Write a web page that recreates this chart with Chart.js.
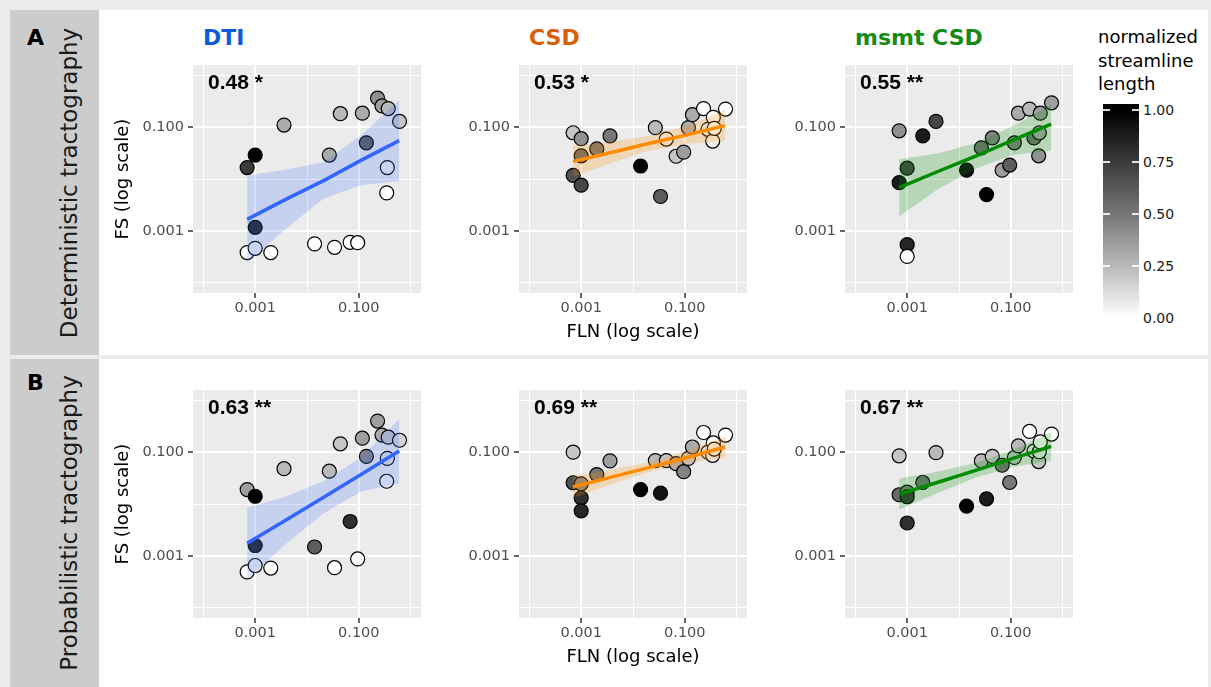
<!DOCTYPE html>
<html lang="en">
<head>
<meta charset="UTF-8" />
<title>FLN vs FS by tractography</title>
<script src="https://cdn.jsdelivr.net/npm/chart.js@4.4.1/dist/chart.umd.min.js"></script>
<style>
  html, body { margin: 0; padding: 0; }
  body {
    width: 1211px; height: 687px; position: relative; overflow: hidden;
    background: #ebebeb; font-family: 'DejaVu Sans', sans-serif;
  }
  .row { position: absolute; left: 10px; width: 1198px; background: #ffffff; }
  .strip { position: absolute; left: 10px; width: 89px; background: #cccccc; }
  .tag { position: absolute; left: 27px; font-weight: bold; font-size: 22px; line-height: 22px; color: #000; }
  .rowlab {
    position: absolute; left: 69px; font-size: 23px; line-height: 23px; color: #1a1a1a;
    white-space: nowrap; transform: translate(-50%, -50%) rotate(-90deg);
  }
  .method { position: absolute; top: 27px; font-weight: bold; font-size: 22px; line-height: 22px; white-space: nowrap; }
  .legtitle { position: absolute; left: 1098px; top: 25px; font-size: 18px; line-height: 23.5px; color: #000; }
  .legbar { position: absolute; left: 1103px; top: 104px; width: 36px; height: 218px; }
  .legtick { position: absolute; height: 1.2px; width: 7px; background: rgba(255,255,255,0.85); }
  .leglab { position: absolute; left: 1143px; font-size: 14px; line-height: 14px; color: #1a1a1a; }
  canvas { position: absolute; }
</style>
</head>
<body>
<script>
  // ---- data ----
  const methods = ["DTI", "CSD", "msmt CSD"];
  const rowNames = ["Deterministic tractography", "Probabilistic tractography"];
  const rowTags = ["A", "B"];
  const stats = ["0.48 *", "0.53 *", "0.55 **", "0.63 **", "0.69 **", "0.67 **"];

  // FLN is shared by every panel
  const fln = [0.0007, 0.0007, 0.001, 0.001, 0.001, 0.002, 0.0036, 0.014, 0.027, 0.034, 0.044,
               0.068, 0.095, 0.117, 0.14, 0.23, 0.28, 0.345, 0.355, 0.37, 0.61];

  // deterministic
  const fsDetDti  = [0.0166, 0.00038, 0.029, 0.00117, 0.00046, 0.00038, 0.110, 0.00056, 0.029, 0.00048, 0.182,
                     0.0006, 0.00059, 0.186, 0.050, 0.363, 0.257, 0.0054, 0.0166, 0.229, 0.129];
  const lenDetDti = [0.75, 0, 1, 0.85, 0.05, 0, 0.3, 0, 0.3, 0, 0.25, 0, 0, 0.3, 0.6, 0.4, 0.35, 0, 0.05, 0.25, 0.2];
  const fsDetCsd  = [0.078, 0.0117, 0.060, 0.028, 0.0076, 0.038, 0.068, 0.0178, 0.098, 0.0046, 0.059,
                     0.0275, 0.033, 0.098, 0.174, 0.229, 0.091, 0.054, 0.155, 0.095, 0.224];
  const lenDetCsd = [0.2, 0.65, 0.4, 0.55, 0.7, 0.5, 0.5, 1, 0.25, 0.6, 0.05, 0.2, 0.35, 0.3, 0.3, 0, 0.05, 0.05, 0, 0, 0];
  const fsDetMsmt  = [0.085, 0.0085, 0.0162, 0.00054, 0.00032, 0.068, 0.129, 0.0148, 0.040, 0.0050, 0.062,
                      0.0148, 0.0186, 0.050, 0.186, 0.224, 0.062, 0.028, 0.078, 0.186, 0.295];
  const lenDetMsmt = [0.4, 0.9, 0.7, 0.85, 0, 0.9, 0.7, 0.95, 0.5, 1, 0.45, 0.35, 0.6, 0.45, 0.3, 0.25, 0.5, 0.4, 0.3, 0.35, 0.35];

  // probabilistic
  const fsProbDti  = [0.019, 0.00049, 0.0141, 0.00158, 0.00065, 0.00058, 0.048, 0.00148, 0.043, 0.00059, 0.145,
                      0.0046, 0.00087, 0.186, 0.083, 0.398, 0.214, 0.0275, 0.076, 0.195, 0.170];
  const lenProbDti = [0.35, 0, 1, 0.85, 0.05, 0, 0.25, 0.6, 0.25, 0, 0.2, 0.8, 0, 0.35, 0.45, 0.35, 0.3, 0.05, 0.1, 0.2, 0.15];
  const fsProbCsd  = [0.100, 0.0257, 0.0245, 0.0132, 0.0074, 0.037, 0.068, 0.019, 0.069, 0.0162, 0.069,
                      0.060, 0.042, 0.076, 0.126, 0.240, 0.100, 0.087, 0.151, 0.115, 0.214];
  const lenProbCsd = [0.2, 0.65, 0.45, 0.8, 0.85, 0.5, 0.35, 1, 0.25, 0.95, 0.2, 0.3, 0.45, 0.2, 0.3, 0, 0.05, 0.05, 0, 0.05, 0];
  const fsProbMsmt  = [0.085, 0.0151, 0.017, 0.0138, 0.0043, 0.026, 0.098, 0.0091, 0.068, 0.0126, 0.083,
                       0.056, 0.026, 0.079, 0.132, 0.251, 0.105, 0.066, 0.102, 0.158, 0.224];
  const lenProbMsmt = [0.2, 0.55, 0.45, 0.75, 0.8, 0.5, 0.25, 1, 0.25, 0.9, 0.2, 0.5, 0.5, 0.2, 0.25, 0, 0.05, 0.2, 0.05, 0, 0];

  // smooth line + confidence band, read at these FLN values
  const smoothFln = [0.0007, 0.0038, 0.021, 0.11, 0.6];
  const fitDetDti  = [0.00166, 0.0040, 0.0093, 0.0229, 0.055];
  const hiDetDti   = [0.0117, 0.0151, 0.021, 0.069, 0.331];
  const loDetDti   = [0.00024, 0.00107, 0.0042, 0.0076, 0.0091];
  const fitDetCsd  = [0.0219, 0.0324, 0.049, 0.071, 0.107];
  const hiDetCsd   = [0.0437, 0.0525, 0.068, 0.107, 0.214];
  const loDetCsd   = [0.011, 0.0204, 0.0355, 0.048, 0.054];
  const fitDetMsmt = [0.0068, 0.0138, 0.0275, 0.056, 0.115];
  const hiDetMsmt  = [0.024, 0.031, 0.049, 0.105, 0.269];
  const loDetMsmt  = [0.0019, 0.0062, 0.0158, 0.029, 0.0355];
  const fitProbDti  = [0.00174, 0.0048, 0.0135, 0.037, 0.105];
  const hiProbDti   = [0.0085, 0.0138, 0.0275, 0.079, 0.437];
  const loProbDti   = [0.00035, 0.00166, 0.0066, 0.0174, 0.025];
  const fitProbCsd  = [0.0214, 0.033, 0.051, 0.079, 0.126];
  const hiProbCsd   = [0.0347, 0.0457, 0.065, 0.105, 0.20];
  const loProbCsd   = [0.0132, 0.024, 0.042, 0.062, 0.078];
  const fitProbMsmt = [0.0155, 0.026, 0.0447, 0.076, 0.129];
  const hiProbMsmt  = [0.031, 0.042, 0.062, 0.110, 0.245];
  const loProbMsmt  = [0.0078, 0.0162, 0.0324, 0.052, 0.068];

  // axes and legend
  const axisTicks = [0.0001, 0.001, 0.01, 0.1, 1];
  const labeledTicks = [0.001, 0.1];
  const tickLabels = ["0.001", "0.100"];
  const legendBreaks = [1, 0.75, 0.5, 0.25, 0];
  const legendLabels = ["1.00", "0.75", "0.50", "0.25", "0.00"];

  // ---- styling ----
  const headColors = ["#0d5bd8", "#d9600a", "#158a15"];
  const lineColors = ["#3366ff", "#ff8c00", "#008b00"];
  const bandColors = ["rgba(51,102,255,0.2)", "rgba(255,140,0,0.22)", "rgba(0,139,0,0.22)"];

  const colLeft = [193, 519, 845];
  const rowTop = [65, 390];
  const plotSize = 228;
  const yAxisW = 80, xAxisH = 50;

  const panels = [
    { fs: fsDetDti,  len: lenDetDti,  fit: fitDetDti,  hi: hiDetDti,  lo: loDetDti },
    { fs: fsDetCsd,  len: lenDetCsd,  fit: fitDetCsd,  hi: hiDetCsd,  lo: loDetCsd },
    { fs: fsDetMsmt, len: lenDetMsmt, fit: fitDetMsmt, hi: hiDetMsmt, lo: loDetMsmt },
    { fs: fsProbDti,  len: lenProbDti,  fit: fitProbDti,  hi: hiProbDti,  lo: loProbDti },
    { fs: fsProbCsd,  len: lenProbCsd,  fit: fitProbCsd,  hi: hiProbCsd,  lo: loProbCsd },
    { fs: fsProbMsmt, len: lenProbMsmt, fit: fitProbMsmt, hi: hiProbMsmt, lo: loProbMsmt }
  ];

  // white -> black through Lab lightness, like scale_fill_gradient
  function shade(v) {
    const L = 100 * (1 - v);
    const Y = L > 8 ? Math.pow((L + 16) / 116, 3) : L / 903.3;
    const c = Y <= 0.0031308 ? 12.92 * Y : 1.055 * Math.pow(Y, 1 / 2.4) - 0.055;
    const g = Math.round(255 * Math.min(1, Math.max(0, c)));
    return `rgb(${g},${g},${g})`;
  }

  function el(cls, style, text) {
    const d = document.createElement("div");
    d.className = cls;
    Object.assign(d.style, style);
    if (text) d.textContent = text;
    document.body.appendChild(d);
    return d;
  }

  // frame, strips, labels
  el("row", { top: "10px", height: "345px" });
  el("row", { top: "359px", height: "328px" });
  el("strip", { top: "10px", height: "345px" });
  el("strip", { top: "359px", height: "328px" });
  el("tag", { top: "27px" }, rowTags[0]);
  el("tag", { top: "372px" }, rowTags[1]);
  el("rowlab", { top: "183px" }, rowNames[0]);
  el("rowlab", { top: "523px" }, rowNames[1]);
  methods.forEach((m, i) => el("method", { left: (colLeft[i] + 10) + "px", color: headColors[i] }, m));

  // colour bar legend
  const legTitle = el("legtitle", {});
  legTitle.innerHTML = "normalized<br>streamline<br>length";
  const barTop = 104, barH = 218, yOne = 110, yZero = 318;
  const stops = [1, 0.75, 0.5, 0.25, 0].map(v => {
    const pct = ((yZero - v * (yZero - yOne)) - barTop) / barH * 100;
    return `${shade(v)} ${pct.toFixed(1)}%`;
  });
  el("legbar", { background: `linear-gradient(to bottom, ${stops.join(", ")})` });
  legendBreaks.forEach((v, i) => {
    const y = yZero - v * (yZero - yOne);
    el("legtick", { left: "1103px", top: (y - 0.6) + "px" });
    el("legtick", { left: "1132px", top: (y - 0.6) + "px" });
    el("leglab", { top: (y - 6.8) + "px" }, legendLabels[i]);
  });

  // ---- charts ----
  const isMajor = t => t && labeledTicks.includes(t.value);

  function logAxis(position, titleText, showTitle) {
    const vertical = position === "left";
    return {
      type: "logarithmic",
      position,
      min: Math.pow(10, -4.2),
      max: Math.pow(10, 0.2),
      afterBuildTicks: s => { s.ticks = axisTicks.map(v => ({ value: v })); },
      afterFit: s => {
        if (vertical) s.width = yAxisW; else s.height = xAxisH;
        s.paddingTop = 0; s.paddingBottom = 0; s.paddingLeft = 0; s.paddingRight = 0;
      },
      ticks: {
        autoSkip: false, maxRotation: 0, minRotation: 0,
        padding: vertical ? 4 : 2,
        color: "#4d4d4d",
        font: { family: "DejaVu Sans", size: 14.5 },
        callback: v => {
          const i = labeledTicks.indexOf(v);
          return i >= 0 ? tickLabels[i] : "";
        }
      },
      grid: {
        color: "#ffffff",
        lineWidth: c => isMajor(c.tick) ? 2 : 1,
        drawTicks: true,
        tickLength: 5,
        tickWidth: 1.5,
        tickColor: c => isMajor(c.tick) ? "#333333" : "rgba(0,0,0,0)"
      },
      border: { display: false },
      title: {
        display: showTitle, text: titleText, color: "#000000", padding: 0,
        font: { family: "DejaVu Sans", size: 18 }
      }
    };
  }

  const panelBg = {
    id: "panelBg",
    beforeDraw(chart) {
      const { ctx, chartArea: a } = chart;
      ctx.save();
      ctx.fillStyle = "#ebebeb";
      ctx.fillRect(a.left, a.top, a.right - a.left, a.bottom - a.top);
      ctx.restore();
    }
  };

  const statLabel = {
    id: "statLabel",
    afterDraw(chart, args, opts) {
      const { ctx, chartArea: a } = chart;
      ctx.save();
      ctx.font = "bold 21px 'Liberation Sans', Arial, sans-serif";
      ctx.fillStyle = "#000000";
      ctx.textBaseline = "alphabetic";
      ctx.fillText(opts.text, a.left + 15, a.top + 23.5);
      ctx.restore();
    }
  };

  const xy = (xs, ys) => xs.map((x, i) => ({ x, y: ys[i] }));

  panels.forEach((p, k) => {
    const row = Math.floor(k / 3), col = k % 3;
    const canvas = document.createElement("canvas");
    canvas.width = yAxisW + plotSize;
    canvas.height = plotSize + xAxisH;
    canvas.style.left = (colLeft[col] - yAxisW) + "px";
    canvas.style.top = rowTop[row] + "px";
    document.body.appendChild(canvas);

    new Chart(canvas, {
      type: "line",
      data: {
        datasets: [
          { data: xy(smoothFln, p.fit), borderColor: lineColors[col], borderWidth: 3.5,
            pointRadius: 0, fill: false, tension: 0 },
          { data: xy(smoothFln, p.hi), borderColor: "rgba(0,0,0,0)", borderWidth: 1,
            pointRadius: 0, fill: "+1", backgroundColor: bandColors[col], tension: 0 },
          { data: xy(smoothFln, p.lo), borderColor: "rgba(0,0,0,0)", borderWidth: 1,
            pointRadius: 0, fill: false, tension: 0 },
          { data: xy(fln, p.fs), showLine: false, pointRadius: 7, pointBorderWidth: 1.2,
            pointBorderColor: "#000000", pointBackgroundColor: p.len.map(shade) }
        ]
      },
      options: {
        responsive: false,
        animation: false,
        devicePixelRatio: 1,
        events: [],
        layout: { padding: 0, autoPadding: false },
        scales: {
          x: logAxis("bottom", "FLN (log scale)", col === 1),
          y: logAxis("left", "FS (log scale)", col === 0)
        },
        plugins: {
          legend: { display: false },
          tooltip: { enabled: false },
          statLabel: { text: stats[k] }
        }
      },
      plugins: [panelBg, statLabel]
    });
  });
</script>
</body>
</html>
